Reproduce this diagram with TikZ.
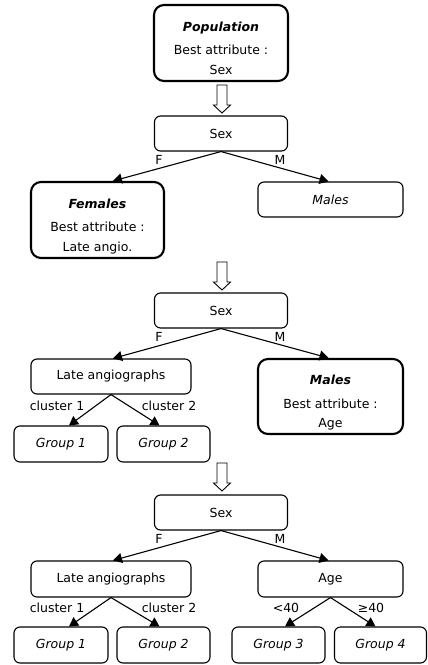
\documentclass[tikz,border=0pt]{standalone}
\usepackage{fontspec}
\setmainfont{DejaVu Sans}
\usetikzlibrary{arrows.meta,calc}
\begin{document}
\begin{tikzpicture}[x=1pt,y=-1pt,
  box/.style={draw,rounded corners=6pt,line width=1.1pt,inner sep=0pt,align=center,
    font=\fontsize{12.5}{15}\selectfont},
  bigbox/.style={box,line width=2.1pt,rounded corners=10pt,font=\fontsize{12.5}{19.5}\selectfont},
  edge/.style={line width=1.1pt,-{Triangle[length=9pt,width=10pt]}},
  lbl/.style={font=\fontsize{12.5}{15}\selectfont,inner sep=0pt},
  hollow/.style={draw,line width=0.9pt,fill=white}]
\useasboundingbox (0,0) rectangle (428,665);
\newcommand{\hollowarrow}[2]{%
  \draw[hollow] (#1-5,#2) -- (#1+5,#2) -- (#1+5,#2+20) -- (#1+8.5,#2+20)
    -- (#1,#2+28) -- (#1-8.5,#2+20) -- (#1-5,#2+20) -- cycle;}
\newcommand{\toprule}{\rule{0pt}{22pt}}
\newcommand{\botrule}{\rule[-3pt]{0pt}{0pt}}
% stage 1
\node[bigbox,minimum width=134pt,minimum height=76pt] (pop) at (221,43)
  {\toprule\textbf{\textit{Population}}\\[4pt]Best attribute :\\Sex\botrule};
\hollowarrow{222}{85}
\node[box,minimum width=133pt,minimum height=35pt] (sexa) at (221,133.5) {Sex};
\node[bigbox,minimum width=133pt,minimum height=76pt] (fem) at (97.5,220)
  {\toprule\textbf{\textit{Females}}\\[4pt]Best attribute :\\Late angio.\botrule};
\node[box,minimum width=145pt,minimum height=35pt] (mala) at (330.5,199.5) {\textit{Males}};
\draw[edge] (sexa.south) -- ($(fem.north)+(15.5,0)$);
\draw[edge] (sexa.south) -- ($(mala.north)+(-2,0)$);
\node[lbl] (fa) at (159,160) {F};
\node[lbl] (ma) at (280,160) {M};
% stage 2
\hollowarrow{222}{262}
\node[box,minimum width=133pt,minimum height=35pt] (sexb) at (221,310.5) {Sex};
\node[box,minimum width=160pt,minimum height=35pt] (lateb) at (111,376.5) {Late angiographs};
\node[bigbox,minimum width=145pt,minimum height=75pt] (malb) at (330.5,396.5)
  {\toprule\textbf{\textit{Males}}\\[4pt]Best attribute :\\Age\botrule};
\node[box,minimum width=94pt,minimum height=36pt] (g1b) at (61,444) {\textit{Group 1}};
\node[box,minimum width=93pt,minimum height=36pt] (g2b) at (163.5,444) {\textit{Group 2}};
\draw[edge] (sexb.south) -- ($(lateb.north)+(2,0)$);
\draw[edge] (sexb.south) -- ($(malb.north)+(-2,0)$);
\draw[edge] (lateb.south) -- ($(g1b.north)+(8,0)$);
\draw[edge] (lateb.south) -- ($(g2b.north)+(-4,0)$);
\node[lbl] (fb) at (159,337) {F};
\node[lbl] (mb) at (280,337) {M};
\node[lbl] (c1b) at (57,406) {cluster 1};
\node[lbl] (c2b) at (169,406) {cluster 2};
% stage 3
\hollowarrow{222}{463}
\node[box,minimum width=133pt,minimum height=35pt] (sexc) at (221,512.5) {Sex};
\node[box,minimum width=160pt,minimum height=36pt] (latec) at (111,579) {Late angiographs};
\node[box,minimum width=145pt,minimum height=36pt] (age) at (330.5,579) {Age};
\node[box,minimum width=94pt,minimum height=36pt] (g1c) at (61,645) {\textit{Group 1}};
\node[box,minimum width=93pt,minimum height=36pt] (g2c) at (163.5,645) {\textit{Group 2}};
\node[box,minimum width=93pt,minimum height=36pt] (g3c) at (278.5,645) {\textit{Group 3}};
\node[box,minimum width=92pt,minimum height=36pt] (g4c) at (380.5,645) {\textit{Group 4}};
\draw[edge] (sexc.south) -- ($(latec.north)+(2,0)$);
\draw[edge] (sexc.south) -- ($(age.north)+(-2,0)$);
\draw[edge] (latec.south) -- ($(g1c.north)+(8,0)$);
\draw[edge] (latec.south) -- ($(g2c.north)+(-4,0)$);
\draw[edge] (age.south) -- ($(g3c.north)+(6.5,0)$);
\draw[edge] (age.south) -- ($(g4c.north)+(-5,0)$);
\node[lbl] (fc) at (159,539) {F};
\node[lbl] (mc) at (280,539) {M};
\node[lbl] (c1c) at (57,608) {cluster 1};
\node[lbl] (c2c) at (169,608) {cluster 2};
\node[lbl] (lt) at (286,608) {<40};
\node[lbl] (ge) at (371,608) {≥40};
\end{tikzpicture}
\end{document}
